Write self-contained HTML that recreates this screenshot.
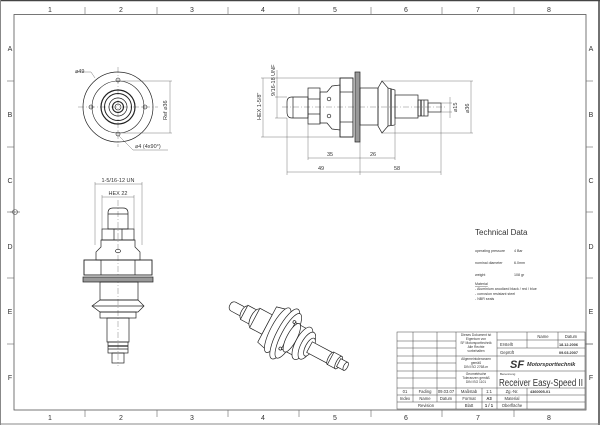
<!DOCTYPE html>
<html><head><meta charset="utf-8"><style>
html,body{margin:0;padding:0;background:#fff}
svg{display:block}
text{font-family:"Liberation Sans",sans-serif;fill:#333}
</style></head><body>
<svg width="600" height="425" viewBox="0 0 600 425" xmlns="http://www.w3.org/2000/svg">
<rect width="600" height="425" fill="#fff"/>
<line x1="0" y1="0.5" x2="600" y2="0.5" stroke="#444" stroke-width="1.5"/>
<line x1="0.5" y1="0" x2="0.5" y2="425" stroke="#888" stroke-width="1"/>
<line x1="599" y1="0" x2="599" y2="425" stroke="#444" stroke-width="1.5"/>
<line x1="0" y1="424" x2="600" y2="424" stroke="#888" stroke-width="1"/>
<rect x="14" y="14.5" width="572" height="395.5" fill="none" stroke="#555" stroke-width="0.8"/>
<g stroke="#666" stroke-width="0.6">
<line x1="85" y1="7" x2="85" y2="14"/><line x1="157" y1="7" x2="157" y2="14"/><line x1="228" y1="7" x2="228" y2="14"/><line x1="299" y1="7" x2="299" y2="14"/><line x1="371" y1="7" x2="371" y2="14"/><line x1="442" y1="7" x2="442" y2="14"/><line x1="514" y1="7" x2="514" y2="14"/>
<line x1="85" y1="410" x2="85" y2="417"/><line x1="157" y1="410" x2="157" y2="417"/><line x1="228" y1="410" x2="228" y2="417"/><line x1="299" y1="410" x2="299" y2="417"/><line x1="371" y1="410" x2="371" y2="417"/><line x1="442" y1="410" x2="442" y2="417"/><line x1="514" y1="410" x2="514" y2="417"/>
<line x1="7" y1="81" x2="14" y2="81"/><line x1="7" y1="147" x2="14" y2="147"/><line x1="7" y1="212" x2="14" y2="212"/><line x1="7" y1="278" x2="14" y2="278"/><line x1="7" y1="344" x2="14" y2="344"/>
<line x1="586" y1="81" x2="593" y2="81"/><line x1="586" y1="147" x2="593" y2="147"/><line x1="586" y1="212" x2="593" y2="212"/><line x1="586" y1="278" x2="593" y2="278"/><line x1="586" y1="344" x2="593" y2="344"/>
</g>
<g font-size="7" text-anchor="middle" fill="#444">
<text x="50" y="12">1</text><text x="121" y="12">2</text><text x="192" y="12">3</text><text x="263" y="12">4</text><text x="335" y="12">5</text><text x="406" y="12">6</text><text x="478" y="12">7</text><text x="549" y="12">8</text>
<text x="50" y="420">1</text><text x="121" y="420">2</text><text x="192" y="420">3</text><text x="263" y="420">4</text><text x="335" y="420">5</text><text x="406" y="420">6</text><text x="478" y="420">7</text><text x="549" y="420">8</text>
<text x="10" y="51">A</text><text x="10" y="117">B</text><text x="10" y="183">C</text><text x="10" y="249">D</text><text x="10" y="314">E</text><text x="10" y="380">F</text>
<text x="591" y="51">A</text><text x="591" y="117">B</text><text x="591" y="183">C</text><text x="591" y="249">D</text><text x="591" y="314">E</text><text x="591" y="380">F</text>
</g>
<g stroke="#555" stroke-width="0.6"><line x1="10" y1="212" x2="20" y2="212"/><circle cx="15" cy="212" r="2.5" fill="none"/></g>

<g fill="none" stroke="#222">
<line x1="78" y1="107" x2="158" y2="107" stroke="#666" stroke-width="0.4" stroke-dasharray="6,2,1,2"/>
<line x1="118" y1="67" x2="118" y2="147" stroke="#666" stroke-width="0.4" stroke-dasharray="6,2,1,2"/>
<circle cx="118" cy="107" r="35" stroke-width="0.7"/>
<circle cx="118" cy="107" r="26" stroke-width="0.6"/>
<circle cx="118" cy="107" r="17" stroke-width="1.2"/>
<circle cx="118" cy="107" r="13.5" stroke-width="1"/>
<circle cx="118" cy="107" r="9" stroke-width="0.7"/>
<circle cx="118" cy="107" r="5.5" stroke-width="1.1"/>
<circle cx="118" cy="107" r="3" stroke-width="0.6"/>
<circle cx="118" cy="80" r="2" stroke-width="0.6"/><circle cx="118" cy="134" r="2" stroke-width="0.6"/>
<circle cx="91" cy="107" r="2" stroke-width="0.6"/><circle cx="145" cy="107" r="2" stroke-width="0.6"/>
<g stroke="#555" stroke-width="0.4">
<line x1="120" y1="81" x2="172" y2="81"/><line x1="120" y1="133" x2="172" y2="133"/><line x1="170" y1="81" x2="170" y2="133"/>
<polyline points="76,72 91,72 95,78"/>
<polyline points="119,136 133,150 168,150"/>
</g>
</g>
<g font-size="5.5" fill="#333">
<text x="75" y="73">⌀49</text>
<text x="135" y="148">⌀4 (4x90°)</text>
<text transform="translate(167,120) rotate(-90)">Ref ⌀36</text>
</g>

<g fill="#fff" stroke="#222" stroke-width="0.7">
<line x1="282" y1="107" x2="446" y2="107" stroke="#666" stroke-width="0.4" stroke-dasharray="6,2,1,2"/>
<path d="M308,97 L292,97 Q287,97 287,102 L287,112 Q287,118 292,118 L308,118 Z" fill="none"/>
<line x1="293" y1="97" x2="293" y2="118"/>
<rect x="308" y="88" width="12" height="36" fill="none"/>
<line x1="308" y1="99" x2="320" y2="99"/><line x1="308" y1="114" x2="320" y2="114"/>
<path d="M320,92 L327,92 L332,86 L340,85 L340,130 L332,129 L327,123 L320,123 Z" fill="none"/>
<circle cx="329" cy="99" r="1.8" fill="none"/><circle cx="329" cy="116" r="1.8" fill="none"/>
<rect x="340" y="78" width="13" height="59" fill="none" stroke-width="0.9"/>
<line x1="340" y1="92" x2="353" y2="92"/><line x1="340" y1="122" x2="353" y2="122"/>
<rect x="355" y="72" width="5" height="70" fill="#999" stroke="#222"/>
<rect x="360" y="88" width="18" height="37" fill="none"/>
<path d="M378,88 L382,81 L388,88 L395,90 L395,125 L388,126 L382,133 L378,126 Z" fill="none"/>
<line x1="388" y1="88" x2="388" y2="126"/><line x1="391" y1="89" x2="391" y2="125" stroke-width="1.2"/>
<rect x="395" y="95" width="23" height="23" fill="none"/>
<rect x="418" y="100" width="10" height="16" fill="none"/>
<line x1="421" y1="100" x2="421" y2="116" stroke-width="1.2"/><line x1="424" y1="100" x2="424" y2="116"/>
<rect x="428" y="103" width="13" height="9" fill="none"/>
</g>
<g stroke="#555" stroke-width="0.4" fill="none">
<line x1="263" y1="78" x2="263" y2="137"/><line x1="261" y1="78" x2="340" y2="78"/><line x1="261" y1="137" x2="340" y2="137"/>
<line x1="277" y1="97" x2="277" y2="118"/><line x1="275" y1="97" x2="287" y2="97"/><line x1="275" y1="118" x2="287" y2="118"/>
<line x1="277" y1="70" x2="277" y2="97"/>
<line x1="382" y1="81" x2="473" y2="81"/><line x1="382" y1="133" x2="473" y2="133"/><line x1="471" y1="81" x2="471" y2="133"/>
<line x1="441" y1="103" x2="452" y2="103"/><line x1="441" y1="112" x2="452" y2="112"/><line x1="450" y1="97" x2="450" y2="118"/>
<line x1="308" y1="124" x2="308" y2="160"/><line x1="360" y1="142" x2="360" y2="175"/><line x1="395" y1="126" x2="395" y2="160"/>
<line x1="287" y1="118" x2="287" y2="175"/><line x1="441" y1="112" x2="441" y2="175"/>
<line x1="308" y1="158" x2="395" y2="158"/><line x1="287" y1="172" x2="441" y2="172"/>
</g>
<g font-size="5.5" fill="#333">
<text x="327" y="156">35</text><text x="370" y="156">26</text>
<text x="318" y="170">49</text><text x="394" y="170">58</text>
<text transform="translate(261,120) rotate(-90)">HEX 1-5/8"</text>
<text transform="translate(275,96) rotate(-90)">9/16-18 UNF</text>
<text transform="translate(457,112) rotate(-90)">⌀15</text>
<text transform="translate(469,113) rotate(-90)">⌀36</text>
</g>

<g fill="#fff" stroke="#222" stroke-width="0.7">
<line x1="118" y1="200" x2="118" y2="366" stroke="#666" stroke-width="0.4" stroke-dasharray="6,2,1,2"/>
<path d="M108,229 L108,213 Q108,208 113,208 L123,208 Q128,208 128,213 L128,229 Z" fill="none"/>
<line x1="108" y1="214" x2="128" y2="214"/>
<rect x="102" y="229" width="32" height="11" fill="none"/>
<line x1="114" y1="229" x2="114" y2="240"/><line x1="122" y1="229" x2="122" y2="240"/>
<path d="M101,240 L135,240 L135,247 L140,252 L140,260 L96,260 L96,252 L101,247 Z" fill="none"/>
<ellipse cx="118" cy="251" rx="2.5" ry="1.8" fill="none"/>
<rect x="84" y="260" width="68" height="15" fill="none" stroke-width="0.9"/>
<line x1="101" y1="260" x2="101" y2="275"/><line x1="135" y1="260" x2="135" y2="275"/>
<rect x="83" y="277" width="70" height="5" fill="#999"/>
<rect x="100" y="282" width="38" height="18" fill="none"/>
<path d="M100,300 L138,300 L144,306 L138,312 L100,312 L92,306 Z" fill="none"/>
<line x1="92" y1="306" x2="144" y2="306"/>
<rect x="100" y="312" width="36" height="6" fill="none"/>
<rect x="107" y="318" width="22" height="24" fill="none"/>
<rect x="108" y="342" width="20" height="11" fill="none"/>
<line x1="108" y1="346" x2="128" y2="346" stroke-width="1.2"/><line x1="108" y1="349" x2="128" y2="349"/>
<rect x="112" y="353" width="12" height="10" fill="none"/>
</g>
<g stroke="#555" stroke-width="0.4" fill="none">
<line x1="95" y1="184" x2="142" y2="184"/><line x1="95" y1="182" x2="95" y2="245"/><line x1="142" y1="182" x2="142" y2="245"/>
<line x1="102" y1="197" x2="134" y2="197"/><line x1="102" y1="195" x2="102" y2="229"/><line x1="134" y1="195" x2="134" y2="229"/>
</g>
<g font-size="5.5" fill="#333" text-anchor="middle">
<text x="118" y="182">1-5/16-12 UN</text><text x="118" y="195">HEX 22</text>
</g>

<g transform="translate(283,333) rotate(28)" fill="#fff" stroke="#222" stroke-width="0.7">
<rect x="-60" y="-5" width="16" height="10" rx="4"/>
<ellipse cx="-44" cy="0" rx="3" ry="7"/>
<rect x="-44" y="-8" width="12" height="16"/>
<ellipse cx="-32" cy="0" rx="4" ry="10"/>
<rect x="-32" y="-11" width="14" height="22"/>
<path d="M-18,-20 L-6,-23 L-6,23 L-18,20 Z"/>
<ellipse cx="-6" cy="0" rx="7" ry="25"/>
<ellipse cx="2" cy="0" rx="8" ry="28"/>
<ellipse cx="6" cy="0" rx="7" ry="25"/>
<circle cx="5" cy="-15" r="1.5" fill="none"/><circle cx="5" cy="15" r="1.5" fill="none"/>
<rect x="6" y="-15" width="20" height="30"/>
<ellipse cx="10" cy="0" rx="5" ry="16"/>
<ellipse cx="22" cy="0" rx="7" ry="18"/>
<ellipse cx="27" cy="0" rx="6" ry="15"/>
<ellipse cx="30" cy="0" rx="4" ry="10"/>
<rect x="30" y="-6" width="24" height="12"/>
<ellipse cx="54" cy="0" rx="2.5" ry="7"/>
<rect x="54" y="-7" width="9" height="14"/>
<ellipse cx="63" cy="0" rx="2.5" ry="7"/>
<rect x="63" y="-4.5" width="8" height="9"/>
<ellipse cx="71" cy="0" rx="2" ry="4.5"/>
</g>

<g fill="#555">
<text x="475" y="235" font-size="8">Technical Data</text>
<g font-size="3.6">
<text x="475" y="252">operating pressure</text><text x="514" y="252">4 Bar</text>
<text x="475" y="264">nominal diameter</text><text x="514" y="264">6.0mm</text>
<text x="475" y="276">weight</text><text x="514" y="276">108 gr</text>
<text x="475" y="285" text-decoration="underline">Material</text>
<text x="475" y="290">- Aluminium anodized black / red / blue</text>
<text x="475" y="295">- corrosion resistant steel</text>
<text x="475" y="300">- NBR seals</text>
</g>
</g>

<g stroke="#444" stroke-width="0.5" fill="none">
<rect x="397" y="332" width="188" height="77"/>
<line x1="413" y1="332" x2="413" y2="402"/><line x1="437" y1="332" x2="437" y2="402"/>
<line x1="456" y1="332" x2="456" y2="409"/><line x1="497" y1="332" x2="497" y2="409"/>
<line x1="482" y1="388" x2="482" y2="409"/>
<line x1="527" y1="332" x2="527" y2="348"/><line x1="558" y1="332" x2="558" y2="348"/>
<line x1="527" y1="388" x2="527" y2="409"/>
<line x1="397" y1="341" x2="456" y2="341"/><line x1="397" y1="348" x2="456" y2="348"/><line x1="397" y1="356" x2="456" y2="356"/>
<line x1="397" y1="363" x2="456" y2="363"/><line x1="397" y1="371" x2="456" y2="371"/><line x1="397" y1="378" x2="456" y2="378"/>
<line x1="397" y1="388" x2="585" y2="388"/><line x1="397" y1="395" x2="585" y2="395"/><line x1="397" y1="402" x2="585" y2="402"/>
<line x1="456" y1="356" x2="497" y2="356"/><line x1="456" y1="371" x2="497" y2="371"/>
<line x1="497" y1="340" x2="585" y2="340"/><line x1="497" y1="348" x2="585" y2="348"/><line x1="497" y1="356" x2="585" y2="356"/>
<line x1="497" y1="371" x2="585" y2="371"/>
</g>
<g font-size="3.3" fill="#333" text-anchor="middle">
<text x="476" y="336">Dieses Dokument ist</text><text x="476" y="340">Eigentum von</text><text x="476" y="344">SF Motorsporttechnik</text><text x="476" y="348">Alle Rechte</text><text x="476" y="352">vorbehalten</text>
<text x="476" y="360">Allgemeintoleranzen</text><text x="476" y="364">gemäß</text><text x="476" y="368">DIN ISO 2768-m</text>
<text x="476" y="375">Geometrische</text><text x="476" y="379">Toleranzen gemäß</text><text x="476" y="383">DIN ISO 1101</text>
</g>
<g font-size="4.2" fill="#333">
<text x="543" y="338" text-anchor="middle">Name</text><text x="571" y="338" text-anchor="middle">Datum</text>
<text x="500" y="346">Erstellt</text><text x="559" y="346" font-weight="bold" font-size="3.8">18.12.2006</text>
<text x="500" y="354">Geprüft</text><text x="559" y="354" font-weight="bold" font-size="3.8">09.03.2007</text>
<text x="500" y="375" font-size="3">Benennung</text>
<text x="405" y="393" text-anchor="middle">01</text><text x="425" y="393" text-anchor="middle">Fading</text><text x="446" y="393" text-anchor="middle">09.03.07</text>
<text x="469" y="393" text-anchor="middle">Maßstab</text><text x="489" y="393" text-anchor="middle">1:1</text><text x="512" y="393" text-anchor="middle">Zg.-Nr.</text><text x="530" y="393" font-weight="bold" font-size="3.8">4360005-01</text>
<text x="405" y="400" text-anchor="middle">Index</text><text x="425" y="400" text-anchor="middle">Name</text><text x="446" y="400" text-anchor="middle">Datum</text>
<text x="469" y="400" text-anchor="middle">Format</text><text x="489" y="400" text-anchor="middle" font-weight="bold">A3</text><text x="512" y="400" text-anchor="middle">Material</text>
<text x="426" y="407" text-anchor="middle">Revision</text>
<text x="469" y="407" text-anchor="middle">Blatt</text><text x="489" y="407" text-anchor="middle" font-weight="bold">1 / 1</text><text x="512" y="407" text-anchor="middle">Oberfläche</text>
</g>
<text x="510" y="368" font-size="11" font-weight="bold" font-style="italic" fill="#111">SF</text>
<text x="527" y="366" font-size="5.5" font-weight="bold" font-style="italic" fill="#222">Motorsporttechnik</text>
<text x="499" y="386" font-size="10" fill="#444" textLength="84" lengthAdjust="spacingAndGlyphs">Receiver Easy-Speed II</text>
<line x1="585" y1="344" x2="593" y2="344" stroke="#555" stroke-width="0.5"/>
</svg>
</body></html>
